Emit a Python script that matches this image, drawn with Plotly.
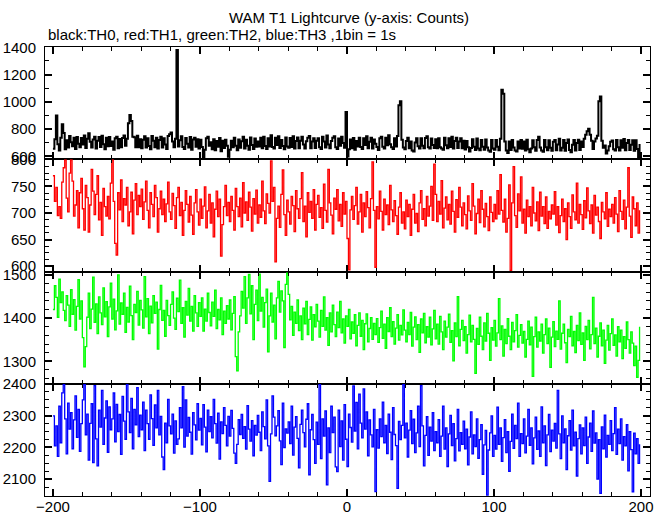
import plotly.graph_objects as go

# ---- time bins (1 bin = 1 s) ----
t_start = -200
n_bins = 400
time_s = list(range(t_start, t_start + n_bins))

# ---- TH0 (black) counts ----
th0 = [
    655, 725, 900, 688, 642, 735, 835, 770, 652, 718, 664, 748, 702, 673, 736, 654, 742, 691, 666, 734,
    687, 753, 661, 729, 768, 706, 664, 723, 744, 657, 713, 742, 668, 751, 689, 652, 735, 674, 742, 676,
    709, 648, 733, 744, 659, 726, 667, 734, 753, 678, 728, 842, 902, 858, 744, 739, 667, 751, 666, 724,
    658, 722, 746, 664, 732, 675, 651, 749, 713, 667, 736, 656, 719, 743, 665, 733, 687, 654, 748, 762,
    775, 708, 667, 729, 1380, 672, 718, 746, 668, 653, 734, 691, 664, 742, 647, 723, 736, 669, 724, 656,
    722, 668, 587, 648, 732, 744, 677, 703, 651, 725, 644, 712, 669, 734, 637, 714, 661, 722, 677, 596,
    648, 713, 667, 735, 678, 644, 723, 662, 711, 743, 656, 722, 677, 648, 737, 682, 654, 731, 669, 708,
    672, 735, 659, 744, 676, 653, 733, 671, 754, 668, 657, 736, 683, 746, 661, 719, 676, 652, 738, 671,
    663, 734, 668, 747, 656, 712, 738, 659, 714, 743, 687, 656, 711, 736, 748, 659, 708, 733, 661, 714,
    732, 667, 654, 743, 709, 664, 752, 687, 658, 712, 735, 746, 666, 653, 731, 678, 744, 697, 662, 924,
    598, 652, 723, 658, 734, 647, 712, 671, 736, 668, 654, 733, 682, 746, 659, 707, 735, 656, 723, 691,
    668, 646, 733, 744, 669, 657, 736, 681, 754, 688, 666, 654, 733, 672, 749, 975, 1004, 722, 664, 651,
    712, 735, 658, 709, 642, 635, 701, 733, 674, 657, 732, 678, 659, 734, 746, 667, 656, 731, 683, 660,
    724, 658, 733, 667, 656, 648, 736, 681, 659, 732, 668, 743, 657, 712, 735, 661, 709, 733, 658, 713,
    649, 712, 666, 635, 661, 724, 670, 645, 731, 656, 644, 720, 669, 647, 723, 665, 642, 633, 719, 656,
    648, 720, 669, 644, 728, 1088, 1058, 708, 643, 623, 709, 645, 720, 664, 642, 634, 708, 657, 719, 655,
    708, 643, 721, 652, 629, 656, 718, 667, 641, 719, 743, 664, 642, 633, 720, 666, 644, 717, 663, 641,
    706, 719, 644, 687, 728, 642, 663, 720, 641, 698, 723, 646, 630, 684, 719, 643, 697, 721, 646, 709,
    668, 729, 757, 783, 801, 757, 713, 653, 708, 731, 750, 1004, 1039, 713, 662, 679, 621, 643, 674, 707,
    716, 651, 643, 719, 667, 642, 718, 663, 727, 644, 697, 720, 646, 684, 718, 641, 717, 653, 576, 690,
]

# ---- TH1 (red) counts ----
th1 = [
    770, 722, 748, 695, 712, 690, 758, 785, 800, 728, 702, 775, 800, 760, 694, 715, 742, 672, 738, 765,
    708, 668, 752, 729, 664, 715, 782, 741, 697, 735, 770, 687, 720, 658, 746, 712, 694, 731, 689, 756,
    800, 722, 643, 621, 738, 706, 762, 684, 727, 715, 748, 676, 702, 739, 661, 724, 755, 697, 733, 712,
    745, 688, 721, 760, 705, 672, 738, 716, 693, 752, 729, 664, 708, 741, 697, 726, 684, 717, 758, 702,
    688, 737, 714, 671, 729, 748, 695, 720, 658, 705, 742, 716, 683, 731, 696, 660, 719, 744, 702, 677,
    726, 690, 713, 749, 672, 704, 735, 681, 719, 655, 707, 741, 693, 726, 619, 678, 712, 752, 695, 720,
    684, 731, 705, 668, 746, 712, 693, 728, 674, 757, 700, 721, 686, 739, 711, 666, 727, 698, 743, 681,
    715, 692, 760, 704, 680, 736, 718, 700, 798, 722, 748, 608, 690, 713, 673, 735, 781, 697, 658, 724,
    702, 679, 731, 714, 665, 742, 708, 690, 727, 776, 684, 713, 655, 738, 701, 722, 690, 744, 668, 716,
    733, 692, 710, 671, 754, 705, 683, 782, 719, 696, 661, 728, 707, 744, 685, 716, 675, 738, 698, 722,
    652, 593, 706, 731, 688, 714, 748, 679, 702, 735, 664, 719, 693, 740, 710, 672, 727, 796, 705, 598,
    712, 689, 741, 703, 668, 726, 697, 715, 678, 752, 706, 684, 723, 695, 660, 711, 738, 681, 702, 670,
    724, 693, 716, 658, 707, 735, 681, 699, 665, 719, 742, 688, 708, 676, 731, 694, 713, 750, 686, 792,
    735, 684, 722, 698, 761, 672, 709, 730, 687, 716, 679, 741, 703, 664, 725, 692, 748, 711, 676, 719,
    697, 670, 732, 704, 686, 755, 713, 661, 699, 726, 682, 742, 707, 674, 718, 693, 667, 730, 701, 684,
    716, 689, 742, 698, 772, 705, 683, 726, 664, 690, 753, 592, 719, 787, 695, 673, 736, 704, 768, 681,
    707, 662, 724, 693, 712, 676, 748, 700, 685, 721, 667, 739, 694, 712, 680, 730, 671, 703, 689, 715,
    698, 740, 677, 712, 663, 695, 726, 684, 708, 650, 719, 693, 671, 734, 702, 687, 756, 681, 716, 697,
    669, 723, 691, 747, 704, 680, 715, 662, 733, 696, 711, 684, 652, 720, 702, 689, 738, 675, 707, 693,
    716, 681, 729, 698, 665, 742, 703, 688, 724, 670, 711, 785, 694, 654, 730, 708, 676, 719, 662, 705,
]

# ---- TH2 (green) counts ----
th2 = [
    1420, 1475, 1448, 1402, 1490, 1436, 1461, 1418, 1394, 1452, 1430, 1381, 1466, 1409, 1443, 1372, 1427, 1489, 1398, 1440,
    1355, 1287, 1334, 1402, 1458, 1376, 1421, 1495, 1390, 1433, 1364, 1449, 1412, 1385, 1470, 1403, 1438, 1357, 1426, 1481,
    1398, 1444, 1373, 1417, 1500, 1386, 1435, 1409, 1458, 1367, 1425, 1391, 1474, 1406, 1350, 1432, 1413, 1462, 1384, 1441,
    1419, 1377, 1496, 1403, 1445, 1364, 1428, 1389, 1452, 1411, 1437, 1328, 1420, 1476, 1395, 1418, 1358, 1441, 1406, 1383,
    1432, 1461, 1400, 1374, 1446, 1415, 1488, 1388, 1424, 1356, 1439, 1407, 1469, 1393, 1427, 1370, 1452, 1412, 1381, 1436,
    1404, 1447, 1370, 1421, 1393, 1458, 1413, 1382, 1437, 1404, 1465, 1376, 1420, 1396, 1447, 1362, 1416, 1388, 1429, 1398,
    1442, 1373, 1411, 1450, 1311, 1278, 1368, 1405, 1462, 1423, 1496, 1388, 1447, 1501, 1410, 1475, 1350, 1432, 1465, 1394,
    1502, 1416, 1448, 1379, 1436, 1467, 1322, 1405, 1458, 1391, 1430, 1352, 1447, 1485, 1414, 1463, 1440, 1332, 1478, 1504,
    1455, 1396, 1427, 1360, 1414, 1388, 1442, 1371, 1405, 1350, 1423, 1387, 1439, 1362, 1397, 1426, 1349, 1408, 1380, 1432,
    1393, 1356, 1418, 1381, 1449, 1372, 1401, 1337, 1412, 1368, 1430, 1385, 1357, 1414, 1378, 1439, 1366, 1398, 1342, 1405,
    1381, 1420, 1352, 1391, 1365, 1408, 1336, 1383, 1412, 1358, 1395, 1327, 1387, 1410, 1345, 1376, 1401, 1351, 1388, 1362,
    1399, 1344, 1378, 1416, 1353, 1386, 1330, 1401, 1369, 1424, 1357, 1392, 1340, 1377, 1408, 1349, 1383, 1361, 1419, 1372,
    1345, 1390, 1362, 1413, 1335, 1379, 1403, 1350, 1385, 1321, 1398, 1366, 1411, 1343, 1380, 1356, 1402, 1338, 1375, 1418,
    1352, 1386, 1340, 1404, 1368, 1327, 1393, 1356, 1379, 1409, 1344, 1371, 1301, 1389, 1357, 1450, 1336, 1374, 1395, 1348,
    1380, 1319, 1362, 1407, 1345, 1383, 1351, 1272, 1376, 1339, 1402, 1358, 1327, 1389, 1347, 1411, 1365, 1302, 1378, 1349,
    1395, 1335, 1366, 1445, 1350, 1382, 1312, 1374, 1341, 1399, 1358, 1327, 1390, 1345, 1371, 1408, 1333, 1360, 1385, 1342,
    1369, 1310, 1351, 1393, 1338, 1379, 1265, 1357, 1402, 1333, 1368, 1347, 1386, 1319, 1362, 1398, 1341, 1377, 1286, 1356,
    1392, 1334, 1370, 1351, 1440, 1328, 1365, 1386, 1343, 1297, 1374, 1357, 1404, 1336, 1369, 1320, 1383, 1348, 1412, 1339,
    1366, 1302, 1381, 1350, 1395, 1329, 1362, 1448, 1341, 1377, 1310, 1358, 1389, 1336, 1372, 1295, 1349, 1383, 1326, 1364,
    1398, 1337, 1361, 1312, 1380, 1345, 1372, 1306, 1357, 1330, 1391, 1350, 1319, 1368, 1342, 1290, 1335, 1263, 1302, 1380,
]

# ---- TH3 (blue) counts ----
th3 = [
    2300, 2205, 2268, 2172, 2330, 2215, 2372, 2398, 2290, 2180, 2340, 2258, 2310, 2196, 2287, 2363, 2232, 2320, 2188, 2275,
    2350, 2398, 2240, 2305, 2160, 2276, 2338, 2152, 2395, 2227, 2142, 2318, 2264, 2380, 2210, 2293, 2347, 2185, 2328, 2256,
    2290, 2372, 2218, 2336, 2250, 2304, 2178, 2361, 2283, 2226, 2398, 2312, 2247, 2355, 2196, 2320, 2271, 2389, 2234, 2302,
    2256, 2343, 2190, 2318, 2275, 2226, 2366, 2291, 2207, 2334, 2262, 2380, 2240, 2298, 2170, 2130, 2277, 2215, 2352, 2268,
    2243, 2305, 2182, 2284, 2210, 2227, 2326, 2262, 2392, 2201, 2350, 2236, 2295, 2248, 2179, 2310, 2271, 2224, 2338, 2255,
    2292, 2208, 2335, 2264, 2186, 2318, 2250, 2297, 2230, 2352, 2275, 2214, 2308, 2163, 2281, 2244, 2326, 2270, 2205, 2298,
    2236, 2317, 2260, 2182, 2150, 2210, 2288, 2241, 2304, 2229, 2266, 2195, 2332, 2258, 2220, 2285, 2174, 2270, 2239, 2301,
    2248, 2190, 2312, 2266, 2227, 2350, 2205, 2093, 2243, 2363, 2296, 2237, 2268, 2316, 2221, 2146, 2340, 2200, 2259, 2245,
    2281, 2212, 2330, 2176, 2264, 2297, 2229, 2136, 2273, 2318, 2247, 2202, 2289, 2338, 2114, 2256, 2304, 2225, 2150, 2280,
    2210, 2398, 2165, 2290, 2236, 2315, 2082, 2262, 2184, 2330, 2247, 2296, 2139, 2124, 2318, 2203, 2284, 2160, 2335, 2226,
    2140, 2305, 2263, 2217, 2394, 2252, 2342, 2196, 2368, 2277, 2230, 2385, 2258, 2312, 2174, 2287, 2240, 2202, 2320, 2061,
    2256, 2198, 2290, 2234, 2343, 2215, 2270, 2181, 2305, 2248, 2162, 2326, 2241, 2206, 2071, 2282, 2225, 2270, 2398, 2230,
    2277, 2170, 2255, 2316, 2212, 2289, 2184, 2246, 2330, 2203, 2395, 2268, 2142, 2238, 2297, 2175, 2264, 2220, 2310, 2190,
    2250, 2215, 2288, 2172, 2236, 2330, 2195, 2262, 2140, 2243, 2301, 2206, 2275, 2158, 2228, 2320, 2189, 2247, 2210, 2283,
    2196, 2258, 2145, 2233, 2312, 2180, 2240, 2203, 2290, 2166, 2225, 2272, 2115, 2208, 2254, 2050, 2192, 2246, 2300, 2172,
    2238, 2195, 2327, 2210, 2262, 2156, 2231, 2288, 2184, 2250, 2125, 2219, 2305, 2197, 2270, 2228, 2340, 2172, 2244, 2212,
    2290, 2183, 2236, 2320, 2207, 2262, 2148, 2230, 2296, 2194, 2252, 2172, 2328, 2215, 2268, 2143, 2240, 2304, 2187, 2255,
    2220, 2276, 2198, 2380, 2243, 2165, 2300, 2215, 2259, 2130, 2237, 2285, 2192, 2318, 2205, 2248, 2110, 2228, 2271, 2180,
    2262, 2206, 2296, 2150, 2233, 2277, 2188, 2315, 2214, 2246, 2100, 2225, 2055, 2265, 2196, 2302, 2170, 2238, 2210, 2285,
    2190, 2244, 2326, 2178, 2258, 2212, 2290, 2160, 2234, 2205, 2272, 2126, 2250, 2193, 2060, 2245, 2180, 2228, 2150, 2210,
]

for name, arr in (("th0", th0), ("th1", th1), ("th2", th2), ("th3", th3)):
    assert len(arr) == n_bins, f"{name} has {len(arr)} values"

title_text = "WAM T1 Lightcurve (y-axis: Counts)"
subtitle_text = "black:TH0, red:TH1, green:TH2, blue:TH3 ,1bin = 1s"

FONT = "Liberation Sans, Arial, Helvetica, sans-serif"

panels = [
    # values, colour, width, y-range, y major dtick, y minor dtick, domain
    (th0, "#000000", 2.0, [578, 1402], 200, 100, [0.75, 1.0]),
    (th1, "#ff0000", 1.3, [590, 801], 50, 12.5, [0.5, 0.75]),
    (th2, "#00ff00", 1.3, [1248, 1508], 100, 20, [0.25, 0.5]),
    (th3, "#0000ff", 1.3, [2047, 2401], 100, 25, [0.0, 0.25]),
]

x_range = [-205.4, 206.1]

fig = go.Figure()
layout = dict(
    width=669, height=515,
    margin=dict(l=45, r=19, t=47, b=19, autoexpand=False),
    paper_bgcolor="white", plot_bgcolor="white",
    showlegend=False,
    font=dict(family=FONT, size=15, color="black"),
)

axis_common = dict(
    showline=True, linecolor="black", linewidth=1,
    mirror="ticks", ticks="inside", ticklen=7, tickwidth=2, tickcolor="black",
    showgrid=False, zeroline=False, automargin=False,
    tickfont=dict(family=FONT, size=15, color="black"),
)

for i, (vals, color, width, yr, ydt, ymin, dom) in enumerate(panels):
    sfx = "" if i == 0 else str(i + 1)
    fig.add_trace(go.Scatter(
        x=time_s, y=vals, mode="lines",
        line=dict(color=color, width=width, shape="hv"),
        xaxis="x" + sfx, yaxis="y" + sfx, hoverinfo="skip", showlegend=False,
    ))
    layout["xaxis" + sfx] = dict(
        axis_common, range=x_range, anchor="y" + sfx, domain=[0, 1],
        tick0=0, dtick=100, showticklabels=(i == 3),
        minor=dict(ticks="inside", ticklen=4, tickwidth=1, tickcolor="black", dtick=20, showgrid=False),
        ticklabelstandoff=-3,
    )
    layout["yaxis" + sfx] = dict(
        axis_common, range=yr, anchor="x" + sfx, domain=dom,
        tick0=0, dtick=ydt,
        minor=dict(ticks="inside", ticklen=4, tickwidth=1, tickcolor="black", dtick=ymin, showgrid=False),
        ticklabelstandoff=5,
    )

fig.update_layout(**layout)

fig.add_annotation(
    text=title_text, xref="paper", yref="paper",
    x=(349 - 45) / 605, y=(496 - 17) / 449, xanchor="center", yanchor="middle",
    showarrow=False, font=dict(family=FONT, size=15, color="black"),
)
fig.add_annotation(
    text=subtitle_text, xref="paper", yref="paper",
    x=(46 - 45) / 605, y=(496 - 34) / 449, xanchor="left", yanchor="middle",
    showarrow=False, font=dict(family=FONT, size=15, color="black"),
)

fig.write_html(
    "out.html",
    config={"displayModeBar": False, "staticPlot": True},
    post_script="document.body.style.margin='0';document.body.style.overflow='hidden';",
)
